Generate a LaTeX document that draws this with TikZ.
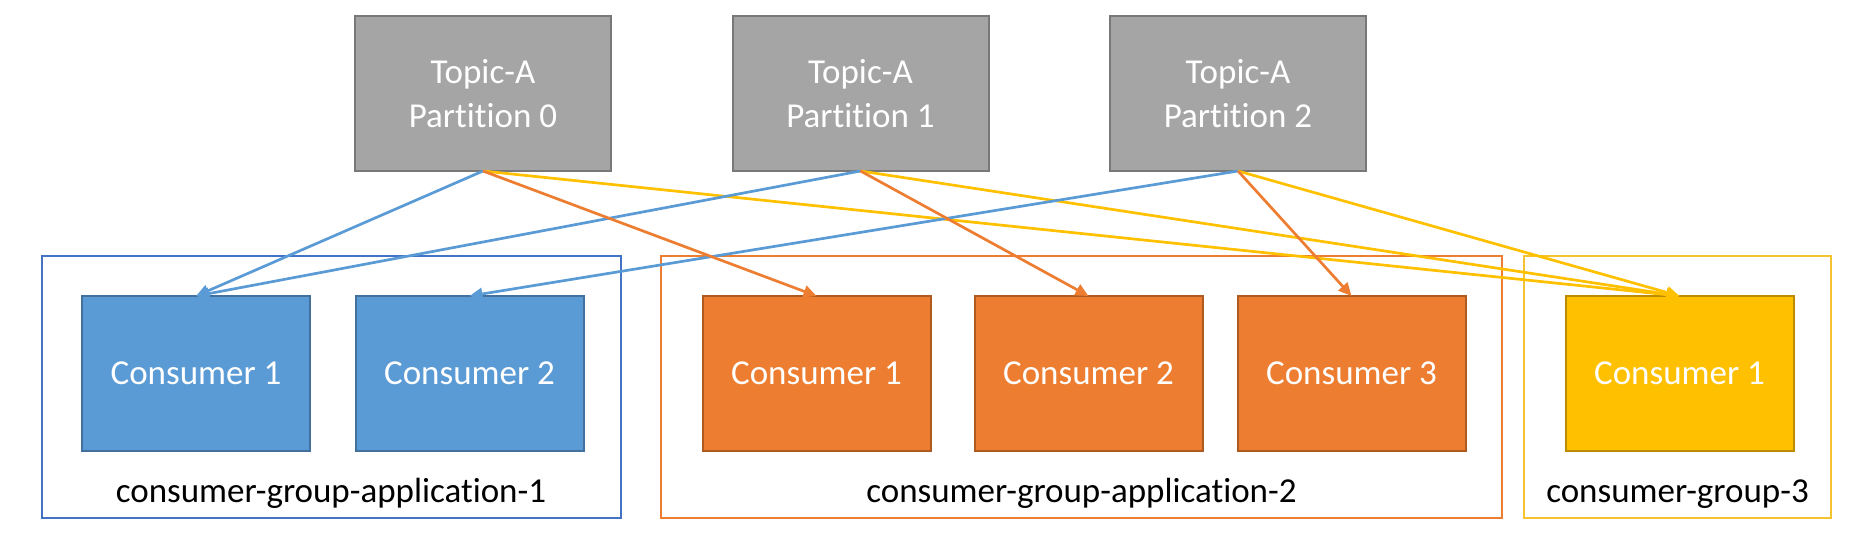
\documentclass[tikz,border=0pt]{standalone}
\usepackage{fontspec}
\setmainfont{Carlito}[RawFeature={-liga;-clig;-calt;-dlig;-rlig}]
\usetikzlibrary{arrows.meta}
\definecolor{topicfill}{HTML}{A5A5A5}
\definecolor{topicline}{HTML}{787878}
\definecolor{bluefill}{HTML}{5B9BD5}
\definecolor{blueline}{HTML}{41719C}
\definecolor{bluegroup}{HTML}{4472C4}
\definecolor{orangefill}{HTML}{ED7D31}
\definecolor{orangeline}{HTML}{AE5A21}
\definecolor{yellowfill}{HTML}{FFC000}
\definecolor{yellowline}{HTML}{BC8C00}
\definecolor{yellowgroup}{HTML}{F5C330}
\tikzset{
  topicbox/.style={draw=topicline, fill=topicfill, line width=2pt, minimum width=256pt, minimum height=155pt,
    inner sep=0pt, outer sep=0pt, text=white, align=center, font=\fontsize{35}{44}\selectfont},
  consbox/.style={line width=2pt, minimum width=228pt, minimum height=155pt,
    inner sep=0pt, outer sep=0pt, text=white, font=\fontsize{35}{42}\selectfont},
  bluecons/.style={consbox, draw=blueline, fill=bluefill},
  orangecons/.style={consbox, draw=orangeline, fill=orangefill},
  yellowcons/.style={consbox, draw=yellowline, fill=yellowfill},
  groupbox/.style={line width=2pt, inner sep=0pt, outer sep=0pt, minimum height=262pt},
  grouplabel/.style={anchor=base, inner sep=0pt, text=black, font=\fontsize{35}{42}\selectfont},
  conn/.style={line width=2.7pt, -{Triangle[length=13pt,width=12pt]}},
}
\begin{document}
\begin{tikzpicture}[x=1pt,y=-1pt]
\useasboundingbox (0,0) rectangle (1860,555);
% groups
\node (g1) [groupbox, draw=bluegroup, minimum width=579.5pt] at (331.25,387) {};
\node (g2) [groupbox, draw=orangefill, minimum width=841pt] at (1081.5,387) {};
\node (g3) [groupbox, draw=yellowgroup, minimum width=307pt] at (1677.5,387) {};
\node (l1) [grouplabel] at (331,502) {consumer-group-application-1};
\node (l2) [grouplabel] at (1081.5,502) {consumer-group-application-2};
\node (l3) [grouplabel] at (1677.5,502) {consumer-group-3};
% topics
\node (p0) [topicbox] at (483,93.5) {Topic-A\\Partition 0};
\node (p1) [topicbox] at (860.5,93.5) {Topic-A\\Partition 1};
\node (p2) [topicbox] at (1238,93.5) {Topic-A\\Partition 2};
% consumers
\node (b1) [bluecons] at (196,373.5) {Consumer 1};
\node (b2) [bluecons] at (469.5,373.5) {Consumer 2};
\node (o1) [orangecons] at (816.5,373.5) {Consumer 1};
\node (o2) [orangecons] at (1088.5,373.5) {Consumer 2};
\node (o3) [orangecons] at (1351.5,373.5) {Consumer 3};
\node (y1) [yellowcons] at (1679.5,373.5) {Consumer 1};
% connectors
\draw[conn, draw=yellowfill, fill=yellowfill] (p0.south) -- (y1.north);
\draw[conn, draw=yellowfill, fill=yellowfill] (p1.south) -- (y1.north);
\draw[conn, draw=yellowfill, fill=yellowfill] (p2.south) -- (y1.north);
\draw[conn, draw=bluefill, fill=bluefill] (p0.south) -- (b1.north);
\draw[conn, draw=bluefill, fill=bluefill] (p1.south) -- (b1.north);
\draw[conn, draw=bluefill, fill=bluefill] (p2.south) -- (b2.north);
\draw[conn, draw=orangefill, fill=orangefill] (p0.south) -- (o1.north);
\draw[conn, draw=orangefill, fill=orangefill] (p1.south) -- (o2.north);
\draw[conn, draw=orangefill, fill=orangefill] (p2.south) -- (o3.north);
\end{tikzpicture}
\end{document}
